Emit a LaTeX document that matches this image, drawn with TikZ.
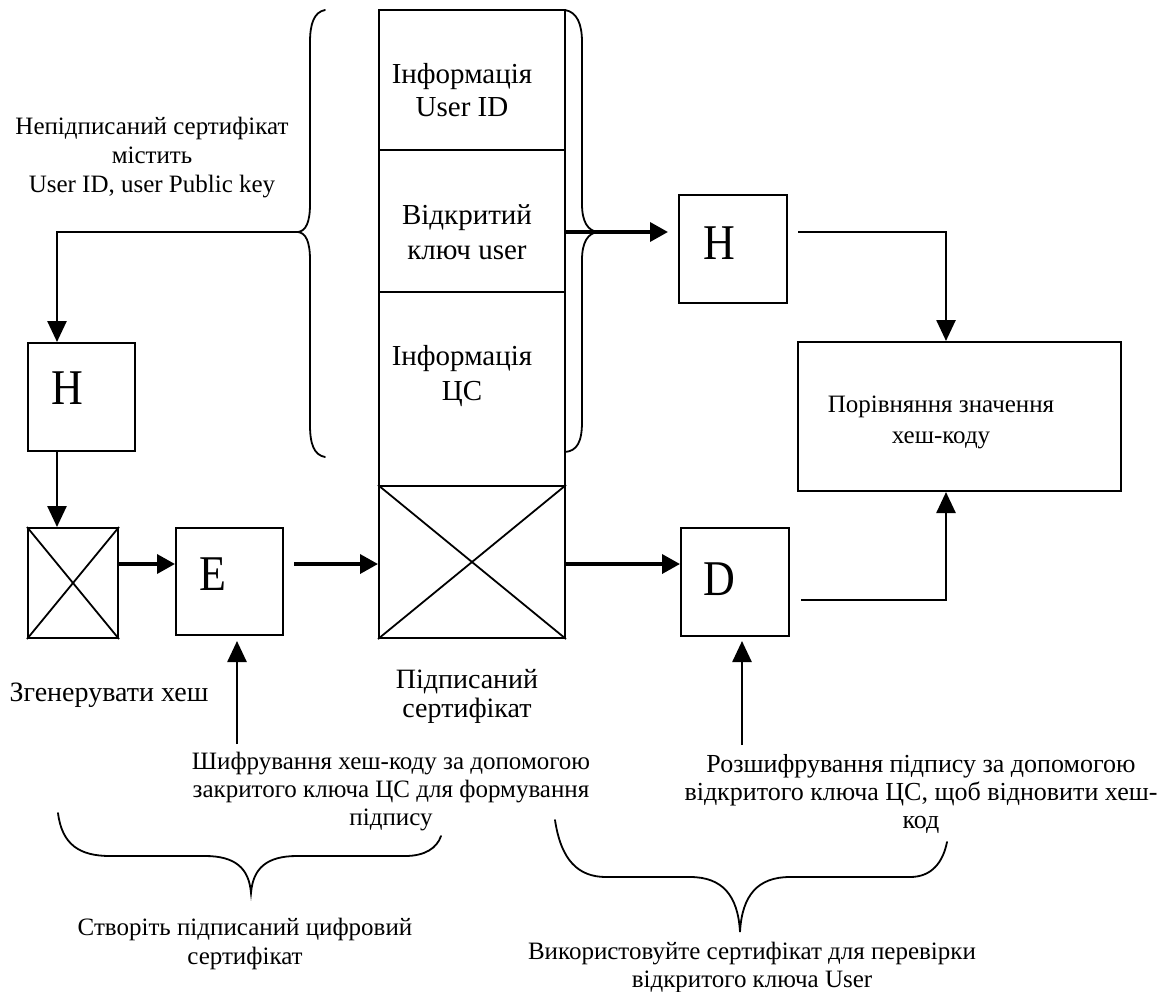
\documentclass[tikz,border=0pt]{standalone}
\usepackage{fontspec}
\usepackage{graphicx}
\setmainfont{Liberation Serif}
\usetikzlibrary{arrows.meta}
\begin{document}
\begin{tikzpicture}[x=1pt,y=-1pt,
  box/.style={draw, line width=2pt, inner sep=0pt},
  harr/.style={line width=3.6pt, -{Triangle[length=18pt,width=19pt]}},
  varr/.style={line width=2.6pt, -{Triangle[length=21pt,width=19pt]}},
  brc/.style={line width=1.8pt, line cap=round},
  lbl/.style={font=\fontsize{25}{28}\selectfont, align=center, inner sep=0pt},
  clbl/.style={font=\fontsize{29}{33}\selectfont, align=center, inner sep=0pt},
  big/.style={font=\fontsize{50}{50}\selectfont, inner sep=0pt}]
\useasboundingbox (0,0) rectangle (1170,991);

% ---------- boxes ----------
\node[box, minimum width=107pt, minimum height=108pt] (hL) at (81.5,397) {};
\node[box, minimum width=90pt, minimum height=110pt] (x1) at (73,583) {};
\node[box, minimum width=107pt, minimum height=107pt] (E) at (229.5,581.5) {};
\node[box, minimum width=186pt, minimum height=140pt] (c1) at (472,80) {};
\node[box, minimum width=186pt, minimum height=142pt] (c2) at (472,221) {};
\node[box, minimum width=186pt, minimum height=194pt] (c3) at (472,389) {};
\node[box, minimum width=186pt, minimum height=152pt] (c4) at (472,562) {};
\node[box, minimum width=108pt, minimum height=108pt] (hR) at (733,249) {};
\node[box, minimum width=323pt, minimum height=149pt] (cmp) at (959.5,416.5) {};
\node[box, minimum width=108pt, minimum height=108pt] (D) at (735,582) {};

% crosses
\draw[line width=1.8pt] (x1.north west) -- (x1.south east) (x1.north east) -- (x1.south west);
\draw[line width=1.8pt] (c4.north west) -- (c4.south east) (c4.north east) -- (c4.south west);

% ---------- letters ----------
\node[big] (hLt) at (67,388) {\scalebox{0.88}[1]{H}};
\node[big] (Et) at (213,574) {\scalebox{0.88}[1]{E}};
\node[big] (hRt) at (719,243) {\scalebox{0.88}[1]{H}};
\node[big] (Dt) at (719,579) {\scalebox{0.88}[1]{D}};

% ---------- texts ----------
\node[lbl, font=\fontsize{25}{29}\selectfont] (unsigned) at (152,158) {Непідписаний сертифікат\\містить\\User ID, user Public key};
\node[clbl] (t1) at (462,90) {Інформація\\User ID};
\node[clbl, font=\fontsize{29}{35}\selectfont] (t2) at (467,232) {Відкритий\\ключ user};
\node[clbl, font=\fontsize{29}{35}\selectfont] (t3) at (462,376) {Інформація\\ЦС};
\node[lbl, font=\fontsize{25}{31}\selectfont] (cmpt) at (941,422) {Порівняння значення\\хеш-коду};
\node[lbl, font=\fontsize{28}{28}\selectfont] (gen) at (109,695) {Згенерувати хеш};
\node[lbl, font=\fontsize{28}{29}\selectfont] (signed) at (467,696) {Підписаний\\сертифікат};
\node[lbl] (enc) at (391,792) {Шифрування хеш-коду за допомогою\\закритого ключа ЦС для формування\\підпису};
\node[lbl, font=\fontsize{26}{28}\selectfont] (dec) at (921,794) {Розшифрування підпису за допомогою\\відкритого ключа ЦС, щоб відновити хеш-\\код};
\node[lbl, font=\fontsize{25}{29}\selectfont] (create) at (245,944) {Створіть підписаний цифровий\\сертифікат};
\node[lbl] (use) at (752,967) {Використовуйте сертифікат для перевірки\\відкритого ключа User};

% ---------- braces ----------
\coordinate (ltip) at (298,232);
\coordinate (rtip) at (598,232);
\draw[brc] (325,10) .. controls (314,12) and (310,24) .. (310,42) -- (310,204)
  .. controls (310,222) and (306,231) .. (ltip)
  .. controls (306,233) and (310,242) .. (310,260) -- (310,425)
  .. controls (310,444) and (314,455) .. (325,457);
\draw[brc] (565,10) .. controls (577,12) and (582,24) .. (582,42) -- (582,204)
  .. controls (582,222) and (588,231) .. (rtip)
  .. controls (588,233) and (582,242) .. (582,260) -- (582,422)
  .. controls (582,442) and (577,451) .. (565,452);
% bottom braces
\coordinate (btip1) at (251,893);
\coordinate (btip2) at (740,932);
\draw[brc] (58,813) .. controls (62,845) and (80,856) .. (110,856) -- (205,856)
  .. controls (235,856) and (249,868) .. (btip1)
  .. controls (253,868) and (267,856) .. (297,856) -- (405,856)
  .. controls (425,856) and (437,848) .. (441,836);
\draw[brc] (555,820) .. controls (561,860) and (578,877) .. (606,877) -- (690,877)
  .. controls (722,877) and (738,895) .. (btip2)
  .. controls (742,895) and (758,877) .. (790,877) -- (910,877)
  .. controls (932,877) and (943,862) .. (947,842);

% ---------- connectors ----------
\coordinate (rowA) at (0,564);
\coordinate (rowB) at (0,600);
\coordinate (colX) at (946,0);
\draw[varr] (ltip) -| ([xshift=30pt]hL.north west);
\draw[varr] ([xshift=30pt]hL.south west) -- ([xshift=30pt]x1.north west);
\draw[harr] (x1.east |- rowA) -- (E.west |- rowA);
\draw[harr] ([xshift=10pt]E.east |- rowA) -- (c4.west |- rowA);
\draw[harr] (c4.east |- rowA) -- (D.west |- rowA);
\draw[harr] (c2.east |- rtip) -- ([xshift=-10pt]hR.west |- rtip);
\draw[varr] ([xshift=10pt]hR.east |- rtip) -| (colX |- cmp.north);
\draw[varr] ([xshift=11pt]D.east |- rowB) -| (colX |- cmp.south);
\coordinate (eTail) at (237,744);
\coordinate (dTail) at (742,745);
\draw[varr] (eTail) -- ([yshift=-5pt]eTail |- E.south);
\draw[varr] (dTail) -- ([yshift=-4pt]dTail |- D.south);
\end{tikzpicture}
\end{document}
